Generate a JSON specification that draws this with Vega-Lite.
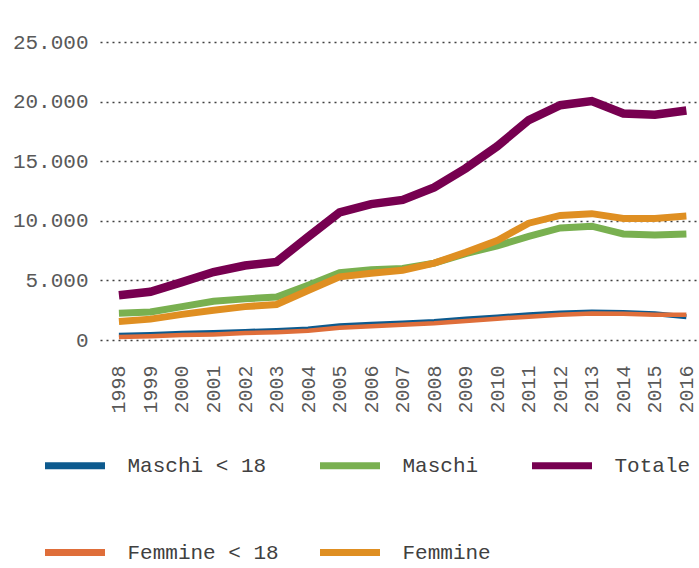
{
  "$schema": "https://vega.github.io/schema/vega-lite/v6.json",
  "width": 599,
  "height": 298,
  "autosize": {"type": "none"},
  "padding": {"left": 100, "top": 42, "right": 0, "bottom": 228},
  "background": "white",
  "config": {
    "view": {"stroke": null},
    "font": "Liberation Mono"
  },
  "datasets": {
    "d": [
      {"year": 1998, "s": "Maschi < 18", "v": 400}, {"year": 1999, "s": "Maschi < 18", "v": 470}, {"year": 2000, "s": "Maschi < 18", "v": 560}, {"year": 2001, "s": "Maschi < 18", "v": 620}, {"year": 2002, "s": "Maschi < 18", "v": 720}, {"year": 2003, "s": "Maschi < 18", "v": 800}, {"year": 2004, "s": "Maschi < 18", "v": 920}, {"year": 2005, "s": "Maschi < 18", "v": 1200}, {"year": 2006, "s": "Maschi < 18", "v": 1330}, {"year": 2007, "s": "Maschi < 18", "v": 1430}, {"year": 2008, "s": "Maschi < 18", "v": 1560}, {"year": 2009, "s": "Maschi < 18", "v": 1760}, {"year": 2010, "s": "Maschi < 18", "v": 1940}, {"year": 2011, "s": "Maschi < 18", "v": 2120}, {"year": 2012, "s": "Maschi < 18", "v": 2270}, {"year": 2013, "s": "Maschi < 18", "v": 2350}, {"year": 2014, "s": "Maschi < 18", "v": 2300}, {"year": 2015, "s": "Maschi < 18", "v": 2200}, {"year": 2016, "s": "Maschi < 18", "v": 1950},
      {"year": 1998, "s": "Femmine < 18", "v": 250}, {"year": 1999, "s": "Femmine < 18", "v": 320}, {"year": 2000, "s": "Femmine < 18", "v": 410}, {"year": 2001, "s": "Femmine < 18", "v": 470}, {"year": 2002, "s": "Femmine < 18", "v": 580}, {"year": 2003, "s": "Femmine < 18", "v": 660}, {"year": 2004, "s": "Femmine < 18", "v": 780}, {"year": 2005, "s": "Femmine < 18", "v": 1030}, {"year": 2006, "s": "Femmine < 18", "v": 1160}, {"year": 2007, "s": "Femmine < 18", "v": 1270}, {"year": 2008, "s": "Femmine < 18", "v": 1400}, {"year": 2009, "s": "Femmine < 18", "v": 1600}, {"year": 2010, "s": "Femmine < 18", "v": 1790}, {"year": 2011, "s": "Femmine < 18", "v": 1960}, {"year": 2012, "s": "Femmine < 18", "v": 2120}, {"year": 2013, "s": "Femmine < 18", "v": 2220}, {"year": 2014, "s": "Femmine < 18", "v": 2200}, {"year": 2015, "s": "Femmine < 18", "v": 2120}, {"year": 2016, "s": "Femmine < 18", "v": 2120},
      {"year": 1998, "s": "Maschi", "v": 2250}, {"year": 1999, "s": "Maschi", "v": 2350}, {"year": 2000, "s": "Maschi", "v": 2800}, {"year": 2001, "s": "Maschi", "v": 3250}, {"year": 2002, "s": "Maschi", "v": 3450}, {"year": 2003, "s": "Maschi", "v": 3600}, {"year": 2004, "s": "Maschi", "v": 4600}, {"year": 2005, "s": "Maschi", "v": 5650}, {"year": 2006, "s": "Maschi", "v": 5900}, {"year": 2007, "s": "Maschi", "v": 6000}, {"year": 2008, "s": "Maschi", "v": 6450}, {"year": 2009, "s": "Maschi", "v": 7250}, {"year": 2010, "s": "Maschi", "v": 7900}, {"year": 2011, "s": "Maschi", "v": 8700}, {"year": 2012, "s": "Maschi", "v": 9400}, {"year": 2013, "s": "Maschi", "v": 9550}, {"year": 2014, "s": "Maschi", "v": 8900}, {"year": 2015, "s": "Maschi", "v": 8800}, {"year": 2016, "s": "Maschi", "v": 8900},
      {"year": 1998, "s": "Femmine", "v": 1550}, {"year": 1999, "s": "Femmine", "v": 1750}, {"year": 2000, "s": "Femmine", "v": 2150}, {"year": 2001, "s": "Femmine", "v": 2500}, {"year": 2002, "s": "Femmine", "v": 2800}, {"year": 2003, "s": "Femmine", "v": 2980}, {"year": 2004, "s": "Femmine", "v": 4150}, {"year": 2005, "s": "Femmine", "v": 5300}, {"year": 2006, "s": "Femmine", "v": 5600}, {"year": 2007, "s": "Femmine", "v": 5850}, {"year": 2008, "s": "Femmine", "v": 6450}, {"year": 2009, "s": "Femmine", "v": 7350}, {"year": 2010, "s": "Femmine", "v": 8350}, {"year": 2011, "s": "Femmine", "v": 9800}, {"year": 2012, "s": "Femmine", "v": 10450}, {"year": 2013, "s": "Femmine", "v": 10600}, {"year": 2014, "s": "Femmine", "v": 10200}, {"year": 2015, "s": "Femmine", "v": 10200}, {"year": 2016, "s": "Femmine", "v": 10400},
      {"year": 1998, "s": "Totale", "v": 3750}, {"year": 1999, "s": "Totale", "v": 4050}, {"year": 2000, "s": "Totale", "v": 4850}, {"year": 2001, "s": "Totale", "v": 5700}, {"year": 2002, "s": "Totale", "v": 6250}, {"year": 2003, "s": "Totale", "v": 6550}, {"year": 2004, "s": "Totale", "v": 8650}, {"year": 2005, "s": "Totale", "v": 10700}, {"year": 2006, "s": "Totale", "v": 11400}, {"year": 2007, "s": "Totale", "v": 11750}, {"year": 2008, "s": "Totale", "v": 12800}, {"year": 2009, "s": "Totale", "v": 14400}, {"year": 2010, "s": "Totale", "v": 16250}, {"year": 2011, "s": "Totale", "v": 18450}, {"year": 2012, "s": "Totale", "v": 19700}, {"year": 2013, "s": "Totale", "v": 20050}, {"year": 2014, "s": "Totale", "v": 19000}, {"year": 2015, "s": "Totale", "v": 18900}, {"year": 2016, "s": "Totale", "v": 19250}
    ]
  },
  "data": {"name": "d"},
  "encoding": {
    "x": {
      "field": "year", "type": "quantitative",
      "scale": {"domain": [1997.4, 2016.4], "nice": false, "zero": false},
      "axis": {
        "title": null, "values": [1998,1999,2000,2001,2002,2003,2004,2005,2006,2007,2008,2009,2010,2011,2012,2013,2014,2015,2016],
        "format": "d", "labelAngle": 270, "labelPadding": 25, "ticks": false, "domain": false, "grid": false,
        "labelFont": "Liberation Mono", "labelFontSize": 20, "labelColor": "#595959",
        "labelOverlap": false, "labelFlush": false, "labelBound": false
      }
    },
    "y": {
      "field": "v", "type": "quantitative",
      "scale": {"domain": [0, 25000], "nice": false},
      "axis": {
        "title": null, "values": [0, 5000, 10000, 15000, 20000, 25000],
        "labelExpr": "replace(format(datum.value, ','), ',', '.')",
        "grid": true, "gridDash": [2, 4], "gridColor": "#404040", "gridWidth": 1.3,
        "ticks": false, "domain": false, "labelPadding": 12,
        "labelFont": "Liberation Mono", "labelFontSize": 21, "labelColor": "#595959"
      }
    },
    "color": {
      "field": "s", "type": "nominal",
      "scale": {
        "domain": ["Maschi < 18", "Femmine < 18", "Maschi", "Femmine", "Totale"],
        "range": ["#0d5a8e", "#df6e3a", "#79b050", "#df8f22", "#770050"]
      },
      "legend": {
        "title": null, "orient": "none", "legendX": -58.5, "legendY": 390, "columns": 3,
        "symbolType": "stroke", "symbolSize": 3600, "symbolStrokeWidth": 7,
        "labelFont": "Liberation Mono", "labelFontSize": 21, "labelColor": "#404040",
        "labelOffset": 19, "rowPadding": 39, "columnPadding": 26,
        "encode": {"symbols": {"update": {"strokeWidth": {"value": 7}, "opacity": {"value": 1}}}}
      }
    }
  },
  "layer": [
    {"transform": [{"filter": "datum.s == 'Maschi < 18'"}], "mark": {"type": "line", "strokeWidth": 5}},
    {"transform": [{"filter": "datum.s == 'Femmine < 18'"}], "mark": {"type": "line", "strokeWidth": 4.5}},
    {"transform": [{"filter": "datum.s == 'Maschi'"}], "mark": {"type": "line", "strokeWidth": 7}},
    {"transform": [{"filter": "datum.s == 'Femmine'"}], "mark": {"type": "line", "strokeWidth": 7}},
    {"transform": [{"filter": "datum.s == 'Totale'"}], "mark": {"type": "line", "strokeWidth": 8.5}}
  ]
}
